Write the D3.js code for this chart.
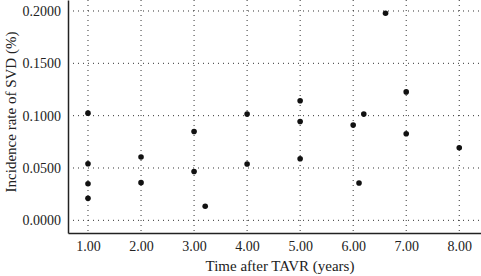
<!DOCTYPE html>
<head>
<script src="https://cdn.jsdelivr.net/npm/d3@7"></script>
<style>
  body { margin: 0; background: #fff; }
  svg text { font-family: 'Liberation Serif', 'Times New Roman', serif !important; fill: #222; }
</style>
</head>
<body>
<div id="container"></div>
<script>
// Données
const years = [1, 1, 1, 1, 2, 2, 3, 3, 3.21, 4, 4, 5, 5, 5, 6, 6.11, 6.2, 6.61, 7, 7, 8];
const rates = [0.1024, 0.054, 0.035, 0.021, 0.0605, 0.036, 0.0849, 0.0467, 0.0134,
               0.1015, 0.0538, 0.1142, 0.0944, 0.0589, 0.091, 0.0357, 0.1015, 0.1978,
               0.1227, 0.0827, 0.0693];
const xTicks = [1, 2, 3, 4, 5, 6, 7, 8];
const yTicks = [0, 0.05, 0.1, 0.15, 0.2];

const data = years.map((d, i) => ({year: d, rate: rates[i]}));

const width = 481, height = 276;
const marginLeft = 68, marginBottom = 43;

const svg = d3.select("#container")
  .append("svg")
  .attr("width", width)
  .attr("height", height);

// Échelles
const x = d3.scaleLinear()
  .domain([0.623, 8.41])
  .range([marginLeft, width]);

const y = d3.scaleLinear()
  .domain([-0.0121, 0.2105])
  .range([height - marginBottom, 0]);

// Grille pointillée
svg.append("g")
  .selectAll("line")
  .data(yTicks)
  .join("line")
  .attr("x1", marginLeft).attr("x2", width)
  .attr("y1", d => y(d)).attr("y2", d => y(d))
  .attr("stroke", "#333")
  .attr("stroke-dasharray", "1,4");

svg.append("g")
  .selectAll("line")
  .data(xTicks)
  .join("line")
  .attr("x1", d => x(d)).attr("x2", d => x(d))
  .attr("y1", 0).attr("y2", height - marginBottom)
  .attr("stroke", "#333")
  .attr("stroke-dasharray", "1,4");

// Axe X
const gx = svg.append("g")
  .attr("transform", `translate(0,${height - marginBottom})`)
  .call(d3.axisBottom(x).tickValues(xTicks).tickFormat(d3.format(".2f")).tickSize(0).tickPadding(8));
gx.attr("font-family", null);
gx.select(".domain").attr("stroke", "#222").attr("stroke-width", 1.5);
gx.selectAll("text").attr("font-size", 14);

// Axe Y
const gy = svg.append("g")
  .attr("transform", `translate(${marginLeft},0)`)
  .call(d3.axisLeft(y).tickValues(yTicks).tickFormat(d3.format(".4f")).tickSize(0).tickPadding(7));
gy.attr("font-family", null);
gy.select(".domain").attr("stroke", "#222").attr("stroke-width", 1.5);
gy.selectAll("text").attr("font-size", 14);

// Points
svg.append("g")
  .selectAll("circle")
  .data(data)
  .join("circle")
  .attr("cx", d => x(d.year))
  .attr("cy", d => y(d.rate))
  .attr("r", 2.8)
  .attr("fill", "#111");

// Titres des axes
svg.append("text")
  .attr("x", 280)
  .attr("y", 271)
  .attr("text-anchor", "middle")
  .attr("font-size", 15)
  .text("Time after TAVR (years)");

svg.append("text")
  .attr("transform", `translate(16,112) rotate(-90)`)
  .attr("text-anchor", "middle")
  .attr("font-size", 15)
  .text("Incidence rate of SVD (%)");
</script>
</body>
